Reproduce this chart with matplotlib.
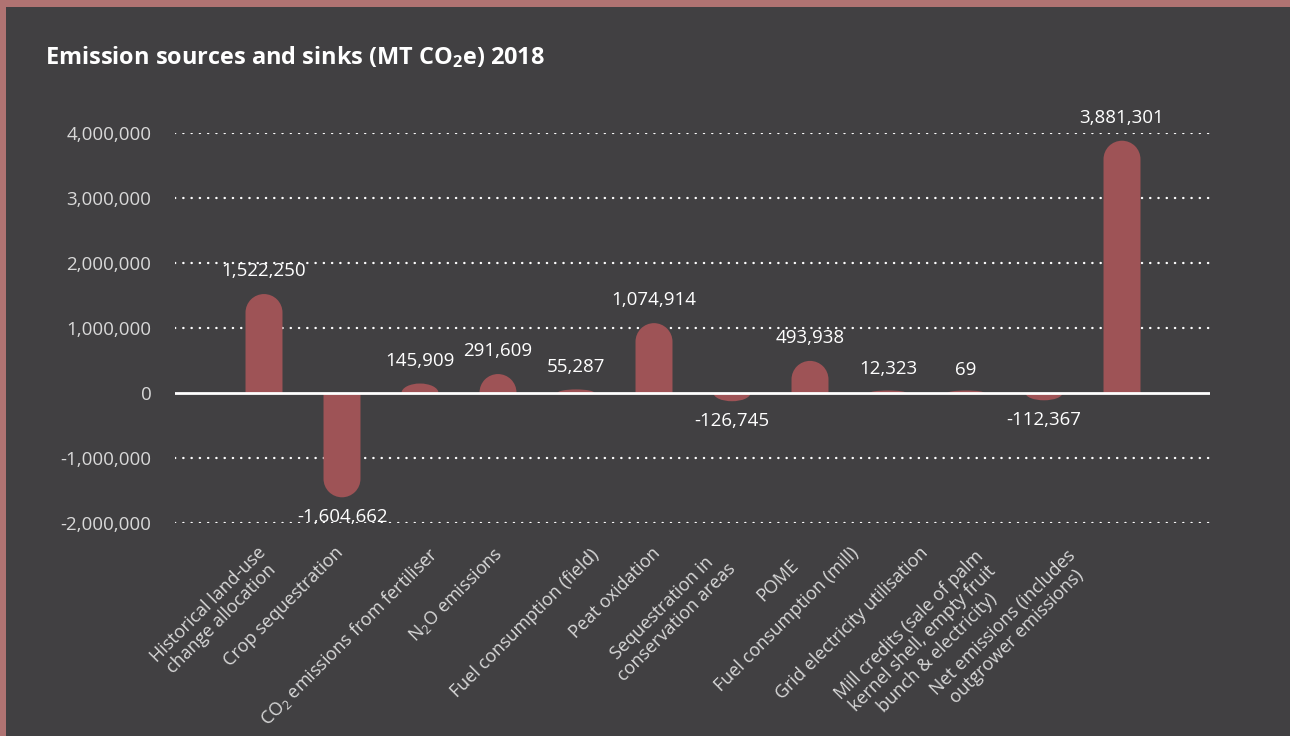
import matplotlib
matplotlib.use("Agg")
import matplotlib.pyplot as plt
from matplotlib.path import Path
from matplotlib.patches import PathPatch, Rectangle
import numpy as np

plt.rcParams['font.family'] = ['Open Sans', 'DejaVu Sans']
plt.rcParams['mathtext.fontset'] = 'custom'
plt.rcParams['mathtext.rm'] = 'Open Sans'
plt.rcParams['mathtext.bf'] = 'Open Sans:bold'

# ---- data -------------------------------------------------------------
categories = [
    "Historical land-use\nchange allocation",
    "Crop sequestration",
    "CO$_2$ emissions from fertiliser",
    "N$_2$O emissions",
    "Fuel consumption (field)",
    "Peat oxidation",
    "Sequestration in\nconservation areas",
    "POME",
    "Fuel consumption (mill)",
    "Grid electricity utilisation",
    "Mill credits (sale of palm\nkernel shell, empty fruit\nbunch & electricity)",
    "Net emissions (includes\noutgrower emissions)",
]
values = [1522250, -1604662, 145909, 291609, 55287, 1074914,
          -126745, 493938, 12323, 69, -112367, 3881301]
y_ticks = [-2000000, -1000000, 0, 1000000, 2000000, 3000000, 4000000]
title = "Emission sources and sinks (MT CO$_\\mathbf{2}$e) 2018"

# ---- layout / style ---------------------------------------------------
BG = "#414042"
FRAME = "#b07372"
BAR = "#9e5356"
TICK_TXT = "#d9d9d9"
FS_NUM = 13.5
FS_CAT = 13

# hand-tuned nudges (pixels) of each rotated category label
label_nudge_x = [-2, -2, 14, 1, 19, 3, -14, -15, -33, -41, -64, -50]
label_nudge_y = [0, 0, 0, 0, 2, 0, 2, 12, 0, 0, 3, 3]

W, H = 1290, 736
fig = plt.figure(figsize=(W / 100, H / 100), dpi=100, facecolor=BG)

# decorative frame on top and left edges
fig.patches.append(Rectangle((0, 1 - 7 / H), 1, 7 / H, transform=fig.transFigure,
                             facecolor=FRAME, edgecolor="none", zorder=0))
fig.patches.append(Rectangle((0, 0), 6 / W, 1, transform=fig.transFigure,
                             facecolor=FRAME, edgecolor="none", zorder=0))

ax_l, ax_r = 175 / W, 1210 / W
ax_top, ax_bot = 1 - 133 / H, 1 - 523 / H
ax = fig.add_axes([ax_l, ax_bot, ax_r - ax_l, ax_top - ax_bot])
ax.set_facecolor("none")

n = len(values)
x = np.arange(n)
ax.set_xlim(-89 / 78, (n - 1) + 88 / 78)
ax.set_ylim(y_ticks[0], y_ticks[-1])

for s in ax.spines.values():
    s.set_visible(False)

# grid lines (dotted) and zero line (solid)
for t in y_ticks:
    if t == 0:
        ax.axhline(0, color="white", lw=2.0, zorder=3)
    else:
        ax.axhline(t, color="white", lw=1.7, linestyle=(0, (0.1, 3.4)),
                   dash_capstyle="round", zorder=1)

ax.set_yticks(y_ticks)
ax.set_yticklabels([f"{t:,}" for t in y_ticks], color=TICK_TXT, fontsize=FS_NUM)
ax.tick_params(axis="y", length=0, pad=17)
ax.set_xticks([])

# pixel -> data conversions for rounded bar ends
ax_h_px = (ax_top - ax_bot) * H
y_per_px = (y_ticks[-1] - y_ticks[0]) / ax_h_px
half_w = 0.237
cap_px = 18.5
min_cap_px = 2.5


def rounded_bar(xc, v):
    sign = 1 if v >= 0 else -1
    ry = max(min(cap_px * y_per_px, abs(v)), min_cap_px * y_per_px)
    base = v - sign * ry if abs(v) > ry else 0.0
    arc = Path.arc(0, 180) if sign > 0 else Path.arc(180, 360)
    av = arc.vertices.copy()
    av[:, 0] = xc + av[:, 0] * half_w
    av[:, 1] = base + av[:, 1] * ry
    if sign > 0:
        verts = [(xc + half_w, 0), (xc + half_w, base)] + [tuple(p) for p in av] + \
                [(xc - half_w, 0), (xc + half_w, 0)]
    else:
        verts = [(xc - half_w, 0), (xc - half_w, base)] + [tuple(p) for p in av] + \
                [(xc + half_w, 0), (xc - half_w, 0)]
    codes = ([Path.MOVETO, Path.LINETO, Path.LINETO] + list(arc.codes[1:]) +
             [Path.LINETO, Path.CLOSEPOLY])
    return Path(verts, codes)


for xi, v in zip(x, values):
    ax.add_patch(PathPatch(rounded_bar(xi, v), facecolor=BAR, edgecolor="none", zorder=2))
    if v >= 0:
        ax.annotate(f"{v:,}", (xi, v), xytext=(0, 10), textcoords="offset points",
                    ha="center", va="bottom", color="white", fontsize=FS_NUM, zorder=5)
    else:
        ax.annotate(f"{v:,}", (xi, v), xytext=(0, -8), textcoords="offset points",
                    ha="center", va="top", color="white", fontsize=FS_NUM, zorder=5)

# rotated category labels
for xi, lab, nx, ny in zip(x, categories, label_nudge_x, label_nudge_y):
    ax.annotate(lab, (xi, 0), xycoords=("data", "axes fraction"),
                xytext=(-5.6 + nx, -20.8 - ny), textcoords="offset pixels",
                ha="right", va="top", rotation=45, rotation_mode="anchor",
                multialignment="center", color=TICK_TXT, fontsize=FS_CAT,
                linespacing=1.12)

fig.text(45 / W, 1 - 57 / H, title, color="white", fontsize=16.9, fontweight="bold",
         ha="left", va="center")

fig.savefig("out.png", dpi=100, facecolor=BG)
